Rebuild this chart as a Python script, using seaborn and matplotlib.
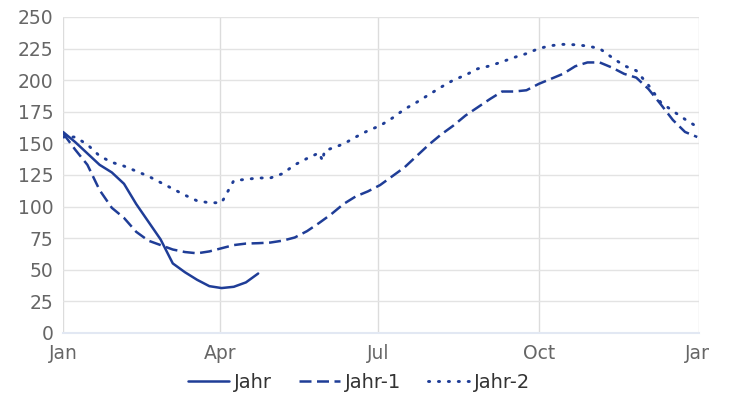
import pandas as pd
import seaborn as sns
import numpy as np
import matplotlib.pyplot as plt
from matplotlib.transforms import Bbox

# day offsets from Jan 1 and the values
days_jahr = [0, 7, 14, 21, 28, 35, 42, 49, 56, 63, 70, 77, 84, 91, 98, 105, 112]
jahr = [159, 151, 142, 133, 127, 118, 102, 88, 74, 55, 48, 42, 37, 35.5, 36.5, 40, 47]

days_jahr1 = list(range(0, 365, 7))
jahr1 = [158, 145, 133, 113, 99, 91, 80, 73, 69.5, 66, 64, 63, 64.5, 67, 69.5, 70.7,
         71, 71.5, 73, 75.5, 80.5, 87, 94, 102, 108, 112, 117, 124, 131, 140, 149, 157,
         164, 172, 178.5, 185, 191, 191, 192, 197, 201, 205, 211, 214, 214, 210, 205,
         202, 193, 181, 168.5, 159, 155]

days_jahr2 = [0, 7, 14, 21, 28, 35, 42, 49, 56, 63, 70, 77, 84, 91, 98, 105, 112, 119,
              126, 133, 140, 147, 149, 150, 154, 161, 168, 175, 182, 189, 196, 203, 210,
              217, 224, 231, 238, 245, 252, 259, 266, 273, 280, 287, 294, 301, 308, 315,
              322, 329, 336, 343, 350, 357, 364]
jahr2 = [155, 155, 149, 140, 135, 132, 128, 124, 119, 114, 109, 104.5, 103, 103, 120.5,
         121.5, 122.6, 122.6, 126, 133, 138, 142.5, 136, 144, 146, 149.5, 155, 160, 164,
         170, 177, 182.5, 188.5, 194.5, 200, 204, 209, 211.3, 214.5, 218, 221, 225, 227.3,
         228.3, 228, 227, 225, 218, 211.5, 207.5, 196, 182.5, 175.6, 169, 163]

month_labels = ['Jan', 'Apr', 'Jul', 'Oct', 'Jan']

start = pd.Timestamp('2023-01-01')
end = pd.Timestamp('2024-01-01')
def to_frame(days, vals):
    return pd.DataFrame({'date': start + pd.to_timedelta(days, unit='D'), 'value': vals})

df_j = to_frame(days_jahr, jahr)
df_j1 = to_frame(days_jahr1, jahr1)
df_j2 = to_frame(days_jahr2, jahr2)

blue = '#1f3d97'
sns.set_style('white')
plt.rcParams['font.family'] = ['DejaVu Sans']

fig = plt.figure(figsize=(7.31, 3.94), dpi=100)
ax = fig.add_axes([0.0862, 0.155, 0.8700, 0.802])

lw = 1.8
sns.lineplot(data=df_j, x='date', y='value', ax=ax, color=blue, lw=lw, legend=False)
sns.lineplot(data=df_j1, x='date', y='value', ax=ax, color=blue, lw=lw, legend=False)
sns.lineplot(data=df_j2, x='date', y='value', ax=ax, color=blue, lw=2.1, legend=False)
l_j, l_j1, l_j2 = ax.lines[:3]
l_j.set_label('Jahr')
l_j1.set_label('Jahr-1')
l_j1.set_linestyle((0, (4.8, 2.2)))
l_j2.set_label('Jahr-2')
l_j2.set_linestyle((0, (0.4, 3.0)))
l_j2.set_dash_capstyle('round')

ax.set_ylim(0, 250)
ax.set_yticks(range(0, 251, 25))
ax.set_xlim(start, end)
qticks = pd.to_datetime(['2023-01-01', '2023-04-01', '2023-07-01', '2023-10-01', '2024-01-01'])
ax.set_xticks(qticks)
ax.set_xticklabels(month_labels[:-1] + [''])
ax.set_xlabel('')
ax.set_ylabel('')

ax.grid(True, color='#e3e3e3', lw=1)
ax.xaxis.grid(True, color='#dcdcdc', lw=1)
for s in ['top', 'right', 'left']:
    ax.spines[s].set_visible(False)
ax.spines['bottom'].set_color('#e2e8f3')
ax.spines['bottom'].set_linewidth(1.5)
ax.tick_params(axis='both', colors='#dcdcdc', length=4, width=1, labelsize=13.5,
               labelcolor='#666666', pad=3)
ax.tick_params(axis='x', pad=4)

# last tick label is cut by the right edge in the reference
last = ax.text(end, -0.0, month_labels[-1], transform=ax.get_xaxis_transform(),
               ha='center', va='top', fontsize=13.5, color='#666666')
fig.canvas.draw()
lab0 = ax.get_xticklabels()[0].get_window_extent()
pos = ax.get_xaxis_transform().inverted().transform((0, lab0.y1))
last.set_y(pos[1])
last.set_clip_box(Bbox([[0, 0], [708.5, 394]]))
last.set_clip_on(True)

leg = fig.legend(handles=[l_j, l_j1, l_j2], loc='center', bbox_to_anchor=(0.491, 0.03),
                 ncol=3, frameon=False, fontsize=14, handlelength=2.1,
                 columnspacing=1.4, handletextpad=0.25)
for t in leg.get_texts():
    t.set_color('#333333')

fig.savefig('out.png', dpi=100)
